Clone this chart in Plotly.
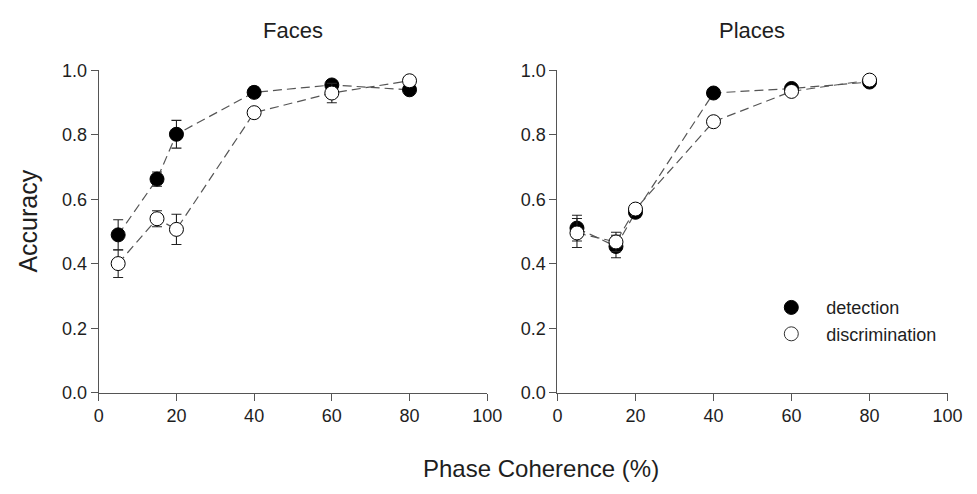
import plotly.graph_objects as go

coherence = [5, 15, 20, 40, 60, 80]

faces_detection = [0.49, 0.663, 0.802, 0.932, 0.955, 0.940]
faces_detection_err = [0.047, 0.022, 0.043, 0.016, 0.010, 0.010]
faces_discrimination = [0.401, 0.540, 0.507, 0.869, 0.930, 0.968]
faces_discrimination_err = [0.043, 0.025, 0.047, 0.012, 0.030, 0.012]

places_detection = [0.511, 0.454, 0.560, 0.930, 0.944, 0.964]
places_detection_err = [0.040, 0.035, 0.015, 0.010, 0.010, 0.010]
places_discrimination = [0.496, 0.468, 0.570, 0.841, 0.935, 0.970]
places_discrimination_err = [0.045, 0.030, 0.010, 0.015, 0.012, 0.010]

x_ticks = [0, 20, 40, 60, 80, 100]
y_ticks = [0.0, 0.2, 0.4, 0.6, 0.8, 1.0]
y_ticklabels = ["0.0", "0.2", "0.4", "0.6", "0.8", "1.0"]

FONT = "Liberation Sans, Arial, sans-serif"
TEXT = "#1e1e1e"
LINE_COLOR = "#555555"
DASH = "9px,5px"
MSIZE = 14

fig = go.Figure()


def add_series(x, y, err, filled, xa, ya):
    fig.add_trace(go.Scatter(
        x=x, y=y, xaxis=xa, yaxis=ya, mode="lines+markers",
        line=dict(color=LINE_COLOR, width=1.2, dash=DASH),
        marker=dict(size=MSIZE, symbol="circle",
                    color="black" if filled else "white",
                    line=dict(color="black", width=1)),
        error_y=dict(type="data", array=err, visible=True,
                     color="#222222", thickness=1.1, width=5),
        showlegend=False, cliponaxis=False,
    ))


add_series(coherence, faces_detection, faces_detection_err, True, "x", "y")
add_series(coherence, faces_discrimination, faces_discrimination_err, False, "x", "y")
add_series(coherence, places_detection, places_detection_err, True, "x2", "y2")
add_series(coherence, places_discrimination, places_discrimination_err, False, "x2", "y2")

# legend-only entries
fig.add_trace(go.Scatter(x=[None], y=[None], mode="markers", name="detection",
                         marker=dict(size=MSIZE, color="black", line=dict(color="black", width=1)),
                         xaxis="x2", yaxis="y2"))
fig.add_trace(go.Scatter(x=[None], y=[None], mode="markers", name="discrimination",
                         marker=dict(size=MSIZE, color="white", line=dict(color="#333333", width=1)),
                         xaxis="x2", yaxis="y2"))

W, H = 977, 494
ydom = [1 - 399 / H, 1 - 63 / H]

axis_common = dict(
    showgrid=False, zeroline=False, showline=True, linecolor=LINE_COLOR, linewidth=1,
    ticks="outside", ticklen=7, tickcolor=LINE_COLOR, tickwidth=1,
    tickfont=dict(family=FONT, size=18, color=TEXT), mirror=False,
)


def ann(text, xp, yp, size, angle=0):
    return dict(text=text, x=xp / W, y=1 - yp / H, xref="paper", yref="paper",
                xanchor="center", yanchor="middle", showarrow=False, textangle=angle,
                font=dict(family=FONT, size=size, color=TEXT))


fig.update_layout(
    width=W, height=H,
    margin=dict(l=0, r=0, t=0, b=0),
    paper_bgcolor="white", plot_bgcolor="white",
    font=dict(family=FONT, color=TEXT),
    xaxis=dict(domain=[95.7 / W, 492.3 / W], range=[0, 100], tickvals=x_ticks,
               anchor="y", **axis_common),
    yaxis=dict(domain=ydom, range=[0, 1], tickvals=y_ticks, ticktext=y_ticklabels,
               anchor="x", **axis_common),
    xaxis2=dict(domain=[564 / W, 962.3 / W], range=[0, 100], tickvals=x_ticks,
                anchor="y2", **axis_common),
    yaxis2=dict(domain=ydom, range=[0, 1], tickvals=y_ticks, ticktext=y_ticklabels,
                anchor="x2", **axis_common),
    legend=dict(x=767 / W, y=1 - 291 / H, xanchor="left", yanchor="top",
                bgcolor="rgba(0,0,0,0)", font=dict(family=FONT, size=18, color=TEXT),
                itemwidth=60, tracegroupgap=0),
    annotations=[
        ann("Faces", 294, 21, 22),
        ann("Places", 763, 21, 22),
        ann("Accuracy", 24, 220, 25, -90),
        ann("Phase Coherence (%)", 547, 478, 24),
    ],
)

fig.write_html("out.html")
